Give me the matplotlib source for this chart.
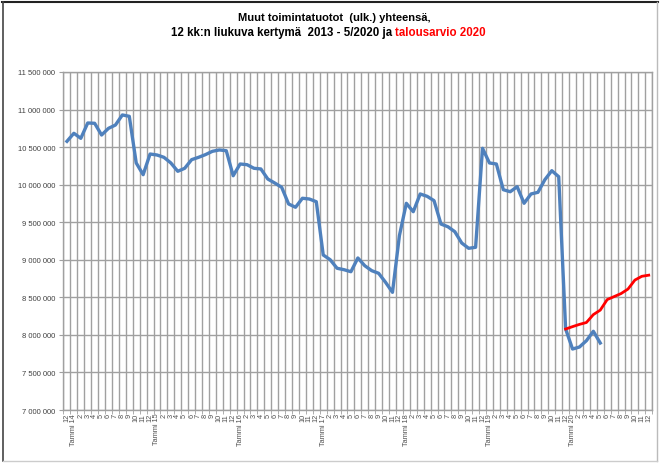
import matplotlib
matplotlib.use('Agg')
import matplotlib.pyplot as plt
import numpy as np
from matplotlib.ticker import FixedLocator, FuncFormatter

plt.rcParams['font.family'] = ['Liberation Sans', 'DejaVu Sans']

# categories: Dec 2013, then Tammi 14 .. Dec 2020
years = [14, 15, 16, 17, 18, 19, 20]
categories = ['12']
for y in years:
    categories += ['Tammi %d' % y] + [str(m) for m in range(2, 13)]

# 12 month rolling total, actual (Dec 2013 - May 2020)
actual = [10577, 10684, 10617, 10821, 10817, 10661, 10750, 10794, 10928, 10910,
          10289, 10133, 10408, 10395, 10364, 10289, 10178, 10218, 10333, 10364,
          10400, 10444, 10462, 10452, 10119, 10275, 10266, 10218, 10209, 10075,
          10022, 9965, 9743, 9699, 9819, 9809, 9773, 9064, 9001, 8887,
          8868, 8841, 9024, 8921, 8855, 8820, 8700, 8567, 9321, 9752,
          9640, 9876, 9845, 9787, 9476, 9440, 9374, 9223, 9153, 9166,
          10484, 10289, 10275, 9933, 9906, 9973, 9752, 9876, 9898, 10066,
          10186, 10106, 8078, 7812, 7839, 7923, 8048, 7892]
actual = np.array(actual) * 1000

# budget 2020 (Dec 2019 - Dec 2020)
budget_start = categories.index('12', 72)
budget = [8078, 8110, 8140, 8165, 8270, 8330, 8470, 8510, 8550, 8610, 8730, 8780, 8795]
budget = np.array(budget) * 1000

fig = plt.figure(figsize=(6.6, 4.64), dpi=100)
ax = fig.add_axes([0.0962, 0.1142, 0.892, 0.7285])

x_all = np.arange(len(categories))
ax.plot(x_all[:len(actual)], actual, color='#4F81BD', lw=2.4, solid_joinstyle='round', zorder=3)
ax.plot(x_all[budget_start:budget_start + len(budget)], budget, color='#FF0000', lw=2.0,
        solid_joinstyle='round', zorder=4)

ax.set_xlim(-0.5, len(categories) - 0.5)
ax.set_ylim(7000000, 11500000)

grid_c = '#A0A0A0'
ax.set_yticks(np.arange(7000000, 11500001, 500000))
ax.yaxis.set_major_formatter(FuncFormatter(lambda v, p: f'{v:,.0f}'.replace(',', ' ')))
ax.grid(axis='y', color=grid_c, lw=1.0)
ax.xaxis.set_minor_locator(FixedLocator(np.arange(-0.5, len(categories), 1.0)))
ax.grid(axis='x', which='minor', color=grid_c, lw=1.0)

ax.set_xticks(x_all)
ax.set_xticklabels(categories, rotation=90, fontsize=5.3, color='#505050')
ax.tick_params(axis='x', which='major', length=0, pad=2)
ax.tick_params(axis='x', which='minor', length=3, color=grid_c)
ax.tick_params(axis='y', labelsize=5.5, labelcolor='#404040', length=3, color=grid_c, pad=3)
ax.set_axisbelow(True)
for s in ax.spines.values():
    s.set_color(grid_c)
    s.set_linewidth(1.0)

# title, second line partly red
fig.text(0.507, 0.961, 'Muut toimintatuotot  (ulk.) yhteensä,', ha='center', va='center',
         fontsize=8, fontweight='bold')
split_x = 0.599
fig.text(split_x, 0.929, '12 kk:n liukuva kertymä  2013 - 5/2020 ja ', ha='right', va='center',
         fontsize=8.3, fontweight='bold')
fig.text(split_x, 0.929, 'talousarvio 2020', ha='left', va='center',
         fontsize=8.3, fontweight='bold', color='#FF0000')

# chart frame
fig.add_artist(plt.Line2D([0.003, 0.997], [0.994, 0.994], transform=fig.transFigure, color='#222222', lw=1.5))
fig.add_artist(plt.Line2D([0.004, 0.004], [0.004, 0.994], transform=fig.transFigure, color='#444444', lw=1.2))
fig.add_artist(plt.Line2D([0.995, 0.995], [0.004, 0.994], transform=fig.transFigure, color='#BBBBBB', lw=1.0))
fig.add_artist(plt.Line2D([0.004, 0.995], [0.005, 0.005], transform=fig.transFigure, color='#CCCCCC', lw=1.0))

fig.savefig('out.png', dpi=100)
